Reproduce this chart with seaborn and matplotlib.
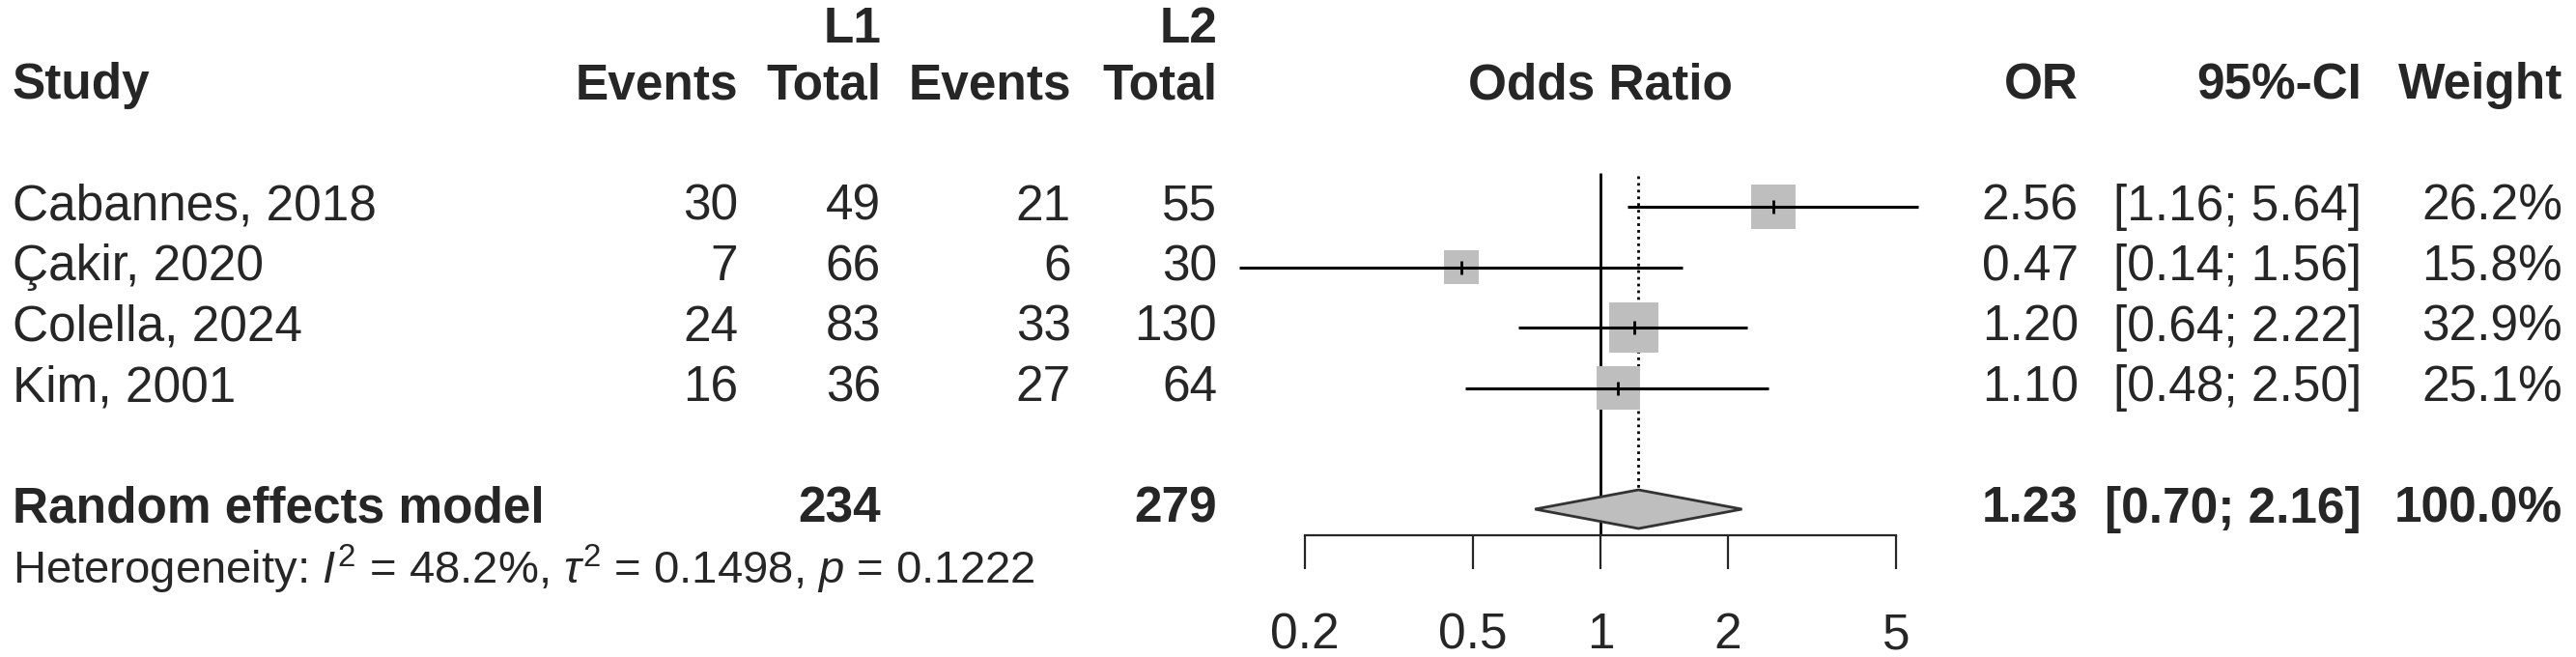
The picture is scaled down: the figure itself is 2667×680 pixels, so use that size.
import matplotlib
matplotlib.use("Agg")
import matplotlib.pyplot as plt
import matplotlib.ticker as mticker
import numpy as np
import pandas as pd
import seaborn as sns

# study data
studies = ["Cabannes, 2018", "Çakir, 2020", "Colella, 2024", "Kim, 2001"]
events_l1 = [30, 7, 24, 16]
total_l1 = [49, 66, 83, 36]
events_l2 = [21, 6, 33, 27]
total_l2 = [55, 30, 130, 64]
odds_ratio = [2.56, 0.47, 1.20, 1.10]
ci_low = [1.16, 0.14, 0.64, 0.48]
ci_high = [5.64, 1.56, 2.22, 2.50]
weight = [26.2, 15.8, 32.9, 25.1]

# pooled estimate
pooled_label = "Random effects model"
pooled_total_l1 = 234
pooled_total_l2 = 279
pooled_or = 1.23
pooled_low = 0.70
pooled_high = 2.16
pooled_weight = 100.0
het_text = r"Heterogeneity: $I^2$ = 48.2%, $\tau^2$ = 0.1498, $p$ = 0.1222"

tick_values = [0.2, 0.5, 1, 2, 5]
tick_labels = ["0.2", "0.5", "1", "2", "5"]

sns.set_style("white")
plt.rcParams["font.family"] = ["Liberation Sans", "DejaVu Sans"]
plt.rcParams["mathtext.fontset"] = "custom"
plt.rcParams["mathtext.rm"] = "Liberation Sans"
plt.rcParams["mathtext.it"] = "Liberation Sans:italic"

# layout (pixels of the 2667x680 canvas)
W, H = 2667, 680
row0_px, row_step = 214, 62.6
y_top = -row0_px / row_step
y_bot = (H - row0_px) / row_step
one_px, px_per_dec = 1657, 438          # where OR = 1 sits, and log10 scale
fx0, fx1 = 1270, 2010                   # forest panel extent
FS = 37
GREY = "#bebebe"

df = pd.DataFrame({"study": studies, "or": odds_ratio, "lo": ci_low,
                   "hi": ci_high, "w": weight, "row": np.arange(len(studies))})
pooled_row = len(studies) + 1
het_row = pooled_row + 1

fig = plt.figure(figsize=(W / 100, H / 100), dpi=100)

# text layer
tx = fig.add_axes([0, 0, 1, 1])
tx.set_xlim(0, W)
tx.set_ylim(y_bot, y_top)
tx.axis("off")

# forest panel
ax = fig.add_axes([fx0 / W, 0, (fx1 - fx0) / W, 1])
ax.set_xscale("log")
ax.set_xlim(10 ** ((fx0 - one_px) / px_per_dec), 10 ** ((fx1 - one_px) / px_per_dec))
ax.set_ylim(y_bot, y_top)
ax.patch.set_alpha(0)

# header
hdr = dict(fontsize=FS, fontweight="bold", va="center")
tx.text(13, -2, "Study", ha="left", **hdr)
tx.text(912, -2.93, "L1", ha="right", **hdr)
tx.text(1260, -2.93, "L2", ha="right", **hdr)
tx.text(764, -2, "Events", ha="right", **hdr)
tx.text(912, -2, "Total", ha="right", **hdr)
tx.text(1109, -2, "Events", ha="right", **hdr)
tx.text(1260, -2, "Total", ha="right", **hdr)
ax.text(1, -2, "Odds Ratio", ha="center", **hdr)
tx.text(2152, -2, "OR", ha="right", **hdr)
tx.text(2445, -2, "95%-CI", ha="right", **hdr)
tx.text(2653, -2, "Weight", ha="right", **hdr)

# study rows
body = dict(fontsize=FS, va="center")
for i, r in df.iterrows():
    tx.text(13, r["row"], r["study"], ha="left", **body)
    tx.text(764, r["row"], str(events_l1[i]), ha="right", **body)
    tx.text(912, r["row"], str(total_l1[i]), ha="right", **body)
    tx.text(1109, r["row"], str(events_l2[i]), ha="right", **body)
    tx.text(1260, r["row"], str(total_l2[i]), ha="right", **body)
    tx.text(2152, r["row"], f"{r['or']:.2f}", ha="right", **body)
    tx.text(2445, r["row"], f"[{r['lo']:.2f}; {r['hi']:.2f}]", ha="right", **body)
    tx.text(2653, r["row"], f"{r['w']:.1f}%", ha="right", **body)

# pooled row
tx.text(13, pooled_row, pooled_label, ha="left", **hdr)
tx.text(912, pooled_row, str(pooled_total_l1), ha="right", **hdr)
tx.text(1260, pooled_row, str(pooled_total_l2), ha="right", **hdr)
tx.text(2152, pooled_row, f"{pooled_or:.2f}", ha="right", **hdr)
tx.text(2445, pooled_row, f"[{pooled_low:.2f}; {pooled_high:.2f}]", ha="right", **hdr)
tx.text(2653, pooled_row, f"{pooled_weight:.1f}%", ha="right", **hdr)
tx.text(13, het_row, het_text, ha="left", va="center", fontsize=34)

# reference lines
axis_row = 5.43
ax.vlines(1, -0.56, axis_row, color="black", lw=2)
ax.vlines(pooled_or, -0.51, pooled_row - 0.32, color="black", lw=2,
          linestyle=(0, (1, 1.5)))

# squares sized by weight (area proportional to weight)
k = (9.0 * 0.72) ** 2
sns.scatterplot(data=df, x="or", y="row", size="w", marker="s", color=GREY,
                edgecolor="none", sizes=(k * df["w"].min(), k * df["w"].max()),
                size_norm=(df["w"].min(), df["w"].max()), legend=False, ax=ax,
                zorder=2)
ax.hlines(df["row"], df["lo"], df["hi"], color="black", lw=2.2, zorder=3)
ax.scatter(df["or"], df["row"], marker="|", s=110, color="black", lw=2, zorder=4)

# diamond for pooled estimate
ax.fill([pooled_low, pooled_or, pooled_high, pooled_or],
        [pooled_row, pooled_row - 0.32, pooled_row, pooled_row + 0.32],
        facecolor=GREY, edgecolor="#333333", lw=2, zorder=3)

# x axis
for s in ["top", "left", "right"]:
    ax.spines[s].set_visible(False)
ax.spines["bottom"].set_position(("data", axis_row))
ax.spines["bottom"].set_bounds(tick_values[0], tick_values[-1])
ax.spines["bottom"].set_linewidth(1.6)
ax.xaxis.set_major_locator(mticker.FixedLocator(tick_values))
ax.xaxis.set_major_formatter(mticker.FixedFormatter(tick_labels))
ax.xaxis.set_minor_locator(mticker.NullLocator())
ax.tick_params(axis="x", direction="out", length=25, width=1.6, pad=32,
               labelsize=FS, bottom=True)
ax.set_yticks([])
ax.set_xlabel("")
ax.set_ylabel("")

fig.savefig("out.png", dpi=100, facecolor="white")
